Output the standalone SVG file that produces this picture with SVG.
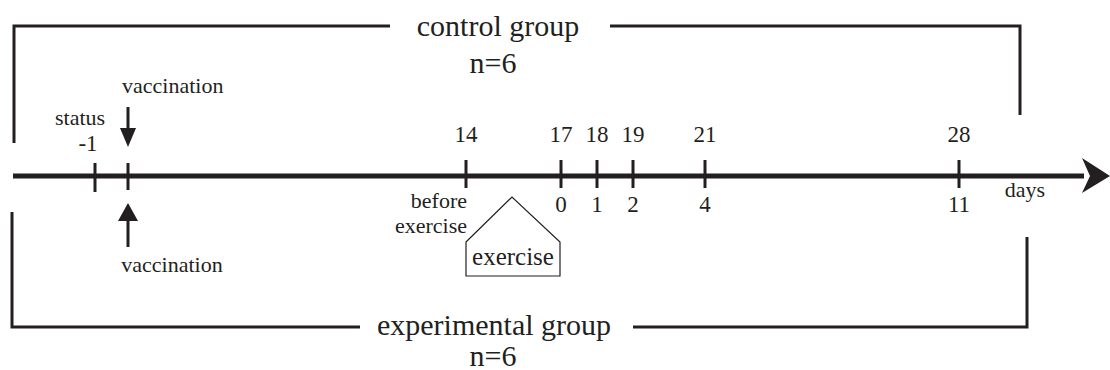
<svg xmlns="http://www.w3.org/2000/svg" width="1110" height="370" viewBox="0 0 1110 370">
<style>
text{font-family:"Liberation Serif","Times New Roman",serif;fill:#231f20}
.big{font-size:30px}
.lab{font-size:23px}
.sm{font-size:22px}
.br{fill:none;stroke:#231f20;stroke-width:3}
.tk{stroke:#231f20;stroke-width:3}
.ax{stroke:#231f20;stroke-width:5}
</style>
<rect width="1110" height="370" fill="#fff"/>
<g id="connectors">
<path class="br" d="M14,143 V26 H390 M610,26 H1020 V115"/>
<path class="br" d="M12,212 V327 H360 M633,327 H1027 V237"/>
<line class="ax" x1="13" y1="176" x2="1084" y2="176"/>
<polygon points="1082,158 1110,176 1082,193 1090,176" fill="#231f20"/>
<line class="tk" x1="95" y1="163" x2="95" y2="192"/>
<line class="tk" x1="128" y1="163" x2="128" y2="190"/>
<line class="tk" x1="466" y1="160" x2="466" y2="188"/>
<line class="tk" x1="561" y1="160" x2="561" y2="188"/>
<line class="tk" x1="597" y1="160" x2="597" y2="188"/>
<line class="tk" x1="633" y1="160" x2="633" y2="188"/>
<line class="tk" x1="705" y1="160" x2="705" y2="188"/>
<line class="tk" x1="959" y1="160" x2="959" y2="188"/>
<line class="tk" x1="128" y1="107" x2="128" y2="130"/>
<polygon points="120,128 136,128 128,147" fill="#231f20"/>
<line class="tk" x1="128" y1="219" x2="128" y2="247"/>
<polygon points="118,221 138,221 128,203" fill="#231f20"/>
</g>
<g id="control-group">
<text class="big" x="498" y="36" text-anchor="middle">control group</text>
<text class="big" x="493" y="73" text-anchor="middle">n=6</text>
</g>
<g id="experimental-group">
<text class="big" x="494" y="335" text-anchor="middle">experimental group</text>
<text class="big" x="493" y="366" text-anchor="middle">n=6</text>
</g>
<g id="labels-top">
<text class="sm" x="122" y="93">vaccination</text>
<text class="sm" x="55" y="125">status</text>
<text class="lab" x="88" y="151" text-anchor="middle">-1</text>
<text class="lab" x="466" y="142" text-anchor="middle">14</text>
<text class="lab" x="561" y="142" text-anchor="middle">17</text>
<text class="lab" x="597" y="142" text-anchor="middle">18</text>
<text class="lab" x="633" y="142" text-anchor="middle">19</text>
<text class="lab" x="705" y="142" text-anchor="middle">21</text>
<text class="lab" x="959" y="142" text-anchor="middle">28</text>
</g>
<g id="labels-bottom">
<text class="sm" x="467" y="208" text-anchor="end">before</text>
<text class="sm" x="467" y="233" text-anchor="end">exercise</text>
<text class="lab" x="561" y="212" text-anchor="middle">0</text>
<text class="lab" x="597" y="212" text-anchor="middle">1</text>
<text class="lab" x="633" y="212" text-anchor="middle">2</text>
<text class="lab" x="705" y="212" text-anchor="middle">4</text>
<text class="lab" x="959" y="212" text-anchor="middle">11</text>
<text class="sm" x="1025" y="197" text-anchor="middle">days</text>
<text class="sm" x="172" y="272" text-anchor="middle">vaccination</text>
</g>
<g id="exercise">
<polygon points="466,242 512,197 560,242 560,276 466,276" fill="#fff" stroke="#231f20" stroke-width="1.2"/>
<text x="513" y="265" text-anchor="middle" style="font-size:25px">exercise</text>
</g>
</svg>
